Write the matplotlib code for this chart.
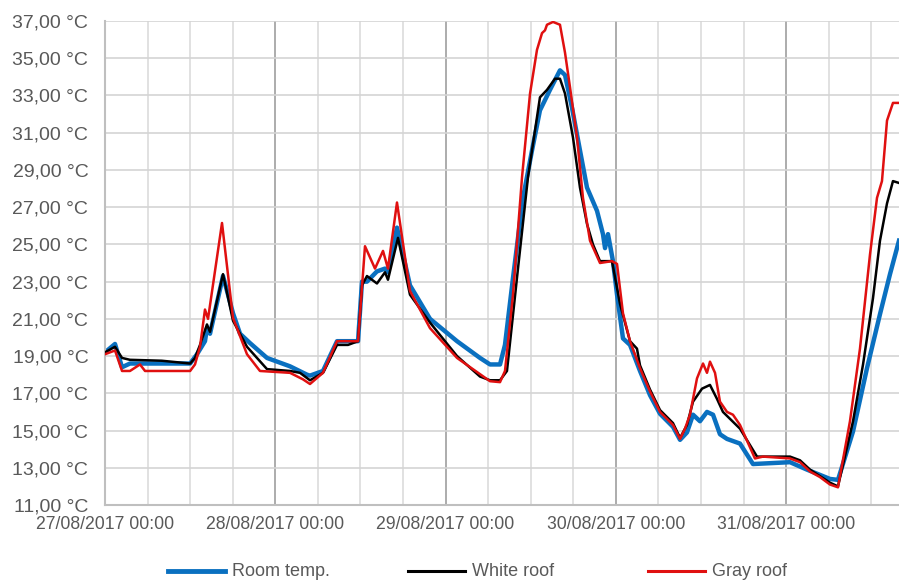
import matplotlib
matplotlib.use("Agg")
import matplotlib.pyplot as plt
from matplotlib.lines import Line2D

# hours since 27/08/2017 00:00 and temperature in degC
room_h = [0, 1.41, 2.4, 3.52, 12.0, 12.97, 14.09, 14.37, 14.8, 16.63, 18.04, 19.03, 20.43,
          22.83, 26.07, 28.47, 28.89, 30.72, 32.7, 35.66, 36.22, 36.92, 38.33, 39.46, 39.88,
          41.15, 42.98, 45.8, 49.61, 52.85, 54.26, 55.67, 56.37, 57.5, 58.91, 60.18, 61.3,
          62.71, 64.12, 64.83, 65.81, 66.94, 67.93, 69.34, 70.18, 70.47, 70.89, 71.59, 72.16,
          73.0, 73.99, 75.4, 76.81, 78.22, 80.05, 81.04, 82.02, 82.87, 83.85, 84.84, 85.69,
          86.67, 87.66, 89.49, 91.32, 96.54, 98.93, 102.17, 103.3, 105.42, 107.39, 109.22,
          110.63, 111.9]
room_t = [19.2, 19.65, 18.4, 18.6, 18.6, 19.1, 19.8, 20.5, 20.2, 23.3, 21.3, 20.2, 19.7,
          18.9, 18.45, 18.0, 17.95, 18.2, 19.8, 19.8, 23.0, 23.0, 23.55, 23.7, 23.5,
          25.9, 22.8, 21.0, 19.8, 18.9, 18.55, 18.55, 19.6, 23.2, 27.5, 30.05, 32.2,
          33.3, 34.35, 34.1, 32.35, 30.05, 28.05, 26.8, 25.55, 24.8, 25.55, 24.1, 22.3,
          19.95, 19.6, 18.2, 16.9, 15.9, 15.2, 14.5, 14.9, 15.85, 15.5, 16.0, 15.85,
          14.8, 14.55, 14.3, 13.2, 13.3, 12.9, 12.4, 12.35, 14.95, 18.35, 21.25,
          23.4, 25.2]

white_h = [0, 1.41, 2.4, 3.52, 8.0, 12.0, 12.68, 13.39, 14.37, 14.8, 16.63, 18.04, 20.01,
           22.83, 26.07, 27.48, 28.89, 30.72, 32.7, 34.25, 35.66, 36.22, 36.92, 38.33, 39.46,
           39.88, 41.29, 42.98, 45.8, 49.61, 52.85, 54.26, 55.67, 56.65, 58.06, 59.61, 61.3,
           62.29, 63.42, 64.12, 64.83, 65.95, 66.94, 67.93, 68.77, 69.76, 71.45, 72.58, 73.99,
           74.97, 75.4, 76.81, 78.22, 80.05, 81.04, 82.02, 82.87, 84.14, 85.26, 86.25, 87.09,
           89.49, 91.89, 96.54, 97.95, 99.36, 102.17, 103.3, 105.42, 106.83, 108.23, 109.22,
           110.21, 111.05, 111.9]
white_t = [19.2, 19.5, 18.9, 18.8, 18.75, 18.6, 18.9, 19.6, 20.7, 20.3, 23.4, 20.9, 19.5,
           18.3, 18.2, 18.1, 17.7, 18.1, 19.6, 19.6, 19.8, 22.8, 23.3, 22.9, 23.5,
           23.1, 25.35, 22.3, 20.8, 19.0, 17.9, 17.7, 17.7, 18.2, 23.2, 28.6, 32.9,
           33.3, 33.9, 33.9, 33.1, 30.75, 28.05, 26.1, 25.0, 24.1, 24.1, 21.8, 19.8,
           19.4, 18.5, 17.2, 16.1, 15.4, 14.6, 15.3, 16.55, 17.25, 17.45, 16.7, 16.0,
           15.1, 13.6, 13.6, 13.4, 12.9, 12.2, 12.0, 15.5, 18.55, 22.1, 25.2,
           27.2, 28.4, 28.3]

gray_h = [0, 1.41, 2.4, 3.52, 4.93, 5.64, 12.0, 12.68, 13.39, 14.09, 14.52, 16.49, 18.04,
          20.01, 21.84, 26.07, 27.9, 28.89, 30.72, 32.7, 35.66, 36.64, 38.05, 39.18, 39.88,
          41.15, 42.98, 45.8, 49.61, 54.26, 55.67, 56.37, 57.5, 58.77, 59.9, 60.88, 61.59,
          62.01, 62.29, 63.14, 64.12, 64.83, 65.53, 66.52, 67.36, 68.35, 69.76, 71.45, 72.16,
          73.0, 73.99, 75.4, 76.81, 78.22, 80.05, 81.04, 81.74, 82.44, 83.43, 83.85, 84.28,
          84.84, 85.26, 85.97, 86.67, 87.66, 88.5, 89.49, 91.6, 92.73, 96.54, 97.95, 99.36,
          100.76, 102.17, 103.3, 104.99, 106.4, 107.81, 108.8, 109.5, 110.21, 111.05, 111.9]
gray_t = [19.1, 19.3, 18.2, 18.2, 18.55, 18.2, 18.2, 18.55, 19.5, 21.5, 21.0, 26.15, 21.05,
          19.1, 18.2, 18.1, 17.75, 17.5, 18.1, 19.8, 19.8, 24.9, 23.7, 24.65, 23.7,
          27.25, 22.5, 20.5, 18.9, 17.65, 17.6, 18.2, 22.3, 28.6, 33.1, 35.45, 36.35,
          36.5, 36.8, 36.95, 36.8, 35.3, 33.45, 30.75, 27.5, 25.2, 24.0, 24.1, 23.95,
          21.3, 19.8, 18.35, 17.1, 16.0, 15.3, 14.55, 15.1, 15.85, 17.8, 18.2, 18.6,
          18.1, 18.7, 18.1, 16.55, 16.0, 15.85, 15.3, 13.5, 13.6, 13.5, 13.3, 12.8,
          12.5, 12.1, 11.95, 15.5, 19.4, 24.45, 27.5, 28.4, 31.65, 32.6, 32.6]

day_labels = ["27/08/2017 00:00", "28/08/2017 00:00", "29/08/2017 00:00",
              "30/08/2017 00:00", "31/08/2017 00:00"]
y_ticks = list(range(11, 38, 2))

plt.rcParams['font.family'] = ['Liberation Sans', 'DejaVu Sans']
txt = '#595959'

fig = plt.figure(figsize=(8.99, 5.83), dpi=100)
ax = fig.add_axes([105/899, 78/583, 794/899, 484/583])

# grid: light every 6 h, darker at midnight
for h in range(0, 113, 6):
    if h % 24 == 0:
        ax.axvline(h, color='#a6a6a6', lw=1.3, zorder=0)
    else:
        ax.axvline(h, color='#d9d9d9', lw=1.1, zorder=0)
for t in y_ticks:
    ax.axhline(t, color='#d4d4d4', lw=1.2, zorder=0)

ax.plot(room_h, room_t, color='#0a70c0', lw=3.2, zorder=2)
ax.plot(white_h, white_t, color='black', lw=1.8, zorder=3)
ax.plot(gray_h, gray_t, color='#e01010', lw=1.8, zorder=4)

ax.set_xlim(0, 111.9)
ax.set_ylim(11, 37)
ax.set_yticks(y_ticks)
ax.set_yticklabels([f"{t},00 °C" for t in y_ticks])
ax.set_xticks([0, 24, 48, 72, 96])
ax.set_xticklabels(day_labels)
ax.tick_params(axis='y', length=0, pad=12, labelsize=14, labelcolor=txt)
ax.tick_params(axis='x', length=0, pad=8, labelsize=12.7, labelcolor=txt)

for s in ['top', 'right']:
    ax.spines[s].set_visible(False)
ax.spines['left'].set_color('#bfbfbf')
ax.spines['left'].set_linewidth(1.5)
ax.spines['bottom'].set_color('#bfbfbf')
ax.spines['bottom'].set_linewidth(1.5)

# legend drawn along the bottom
names = ["Room temp.", "White roof", "Gray roof"]
colors = ['#0a70c0', 'black', '#e01010']
widths = [3.5, 2.2, 2.2]
starts = [168, 408, 648]
ly = 1 - 571/583
for name, c, w, x0 in zip(names, colors, widths, starts):
    fig.add_artist(Line2D([x0/899, (x0+57)/899], [ly, ly], color=c, lw=w))
    fig.text((x0+64)/899, ly, name, fontsize=13, color=txt, va='center', ha='left')

fig.savefig("out.png", dpi=100)
